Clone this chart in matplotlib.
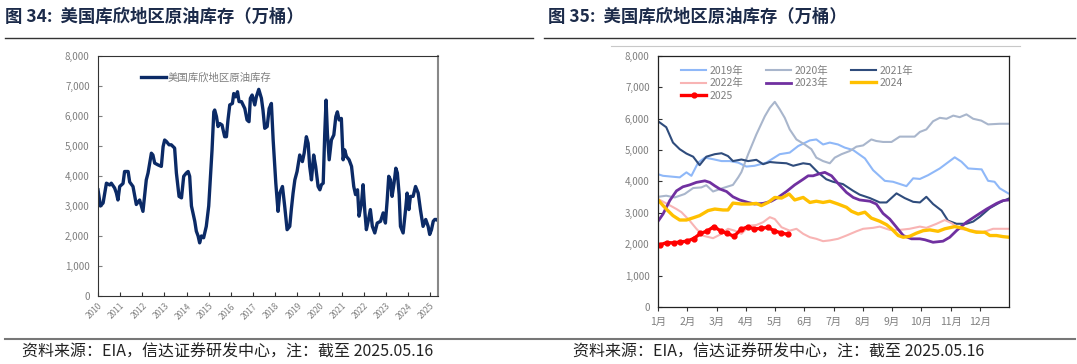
import matplotlib.pyplot as plt
import numpy as np

plt.rcParams['font.family'] = ['Noto Sans CJK SC', 'DejaVu Sans']

# ---- left chart: Cushing crude stocks (10k bbl), x in decimal years ----
cush_year = [2010.00, 2010.11, 2010.23, 2010.38, 2010.53, 2010.60, 2010.75, 2010.83, 2010.90, 2010.98,
             2011.13, 2011.20, 2011.36, 2011.43, 2011.58, 2011.73, 2011.88, 2012.03, 2012.18, 2012.26,
             2012.41, 2012.48, 2012.56, 2012.71, 2012.86, 2012.94, 2013.01, 2013.09, 2013.21, 2013.31,
             2013.46, 2013.54, 2013.66, 2013.77, 2013.87, 2013.99, 2014.07, 2014.14, 2014.22, 2014.37,
             2014.44, 2014.52, 2014.59, 2014.67, 2014.77, 2014.89, 2015.00, 2015.09, 2015.15, 2015.23,
             2015.27, 2015.35, 2015.42, 2015.50, 2015.60, 2015.72, 2015.80, 2015.87, 2015.95, 2016.07,
             2016.13, 2016.22, 2016.30, 2016.37, 2016.48, 2016.55, 2016.63, 2016.73, 2016.82, 2016.88,
             2016.96, 2017.08, 2017.15, 2017.26, 2017.38, 2017.45, 2017.53, 2017.64, 2017.73, 2017.83,
             2017.91, 2018.03, 2018.13, 2018.21, 2018.33, 2018.43, 2018.54, 2018.66, 2018.73, 2018.81,
             2018.89, 2018.99, 2019.11, 2019.23, 2019.31, 2019.41, 2019.49, 2019.56, 2019.64, 2019.74,
             2019.83, 2019.94, 2020.02, 2020.09, 2020.17, 2020.24, 2020.30, 2020.36, 2020.44, 2020.54,
             2020.65, 2020.74, 2020.81, 2020.89, 2020.99, 2021.07, 2021.14, 2021.22, 2021.34, 2021.45,
             2021.55, 2021.63, 2021.72, 2021.79, 2021.90, 2021.97, 2022.05, 2022.12, 2022.20, 2022.30,
             2022.39, 2022.50, 2022.61, 2022.76, 2022.88, 2022.98, 2023.06, 2023.13, 2023.21, 2023.28,
             2023.37, 2023.45, 2023.52, 2023.60, 2023.66, 2023.78, 2023.89, 2023.96, 2024.04, 2024.11,
             2024.23, 2024.34, 2024.46, 2024.56, 2024.68, 2024.80, 2024.91, 2024.98, 2025.06, 2025.14,
             2025.21, 2025.29, 2025.37]
cush_val = [3540, 3000, 3100, 3760, 3700, 3760, 3600, 3430, 3200, 3650,
            3750, 4150, 4150, 3800, 3650, 3050, 3200, 2820, 3870, 4100,
            4760, 4700, 4430, 4370, 4320, 4980, 5200, 5150, 5040, 5040,
            4930, 4100, 3320, 3270, 3990, 4100, 4150, 3990, 3000, 2490,
            2160, 2000, 1770, 2000, 1940, 2320, 3000, 4100, 4870, 6140,
            6200, 5980, 5650, 5750, 5700, 5310, 5310, 5870, 6370, 6420,
            6750, 6640, 6810, 6480, 6480, 6370, 6250, 5870, 5810, 6590,
            6700, 6370, 6640, 6890, 6590, 6200, 5590, 5650, 6250, 6420,
            5200, 3760, 2820, 3430, 3650, 3000, 2210, 2320, 2880, 3430,
            3870, 4150, 4700, 4480, 4760, 5310, 5090, 4320, 3870, 4700,
            4320, 3650, 3540, 3710, 3760, 5420, 6530, 5420, 4540, 5200,
            5370, 5980, 6140, 5870, 5920, 4540, 4870, 4650, 4540, 4320,
            3650, 3380, 3540, 2660, 3100, 3710, 2820, 2210, 2490, 2880,
            2320, 2100, 2430, 2490, 2770, 2430, 3200, 3990, 3870, 3320,
            3760, 4260, 4100, 3380, 2320, 2100, 2880, 3430, 2880, 3320,
            3320, 3650, 3430, 2880, 2320, 2550, 2320, 2050, 2210, 2490,
            2550, 2550, 2500]
cush_years = list(range(2010, 2026))

# ---- right chart: seasonal view, x in months since Jan 1 ----
m19 = [0.00, 0.17, 0.74, 0.97, 1.14, 1.37, 1.60, 1.88, 2.17, 2.45, 2.74, 3.02, 3.30, 3.70, 4.16, 4.50,
       4.79, 5.19, 5.41, 5.64, 5.87, 6.15, 6.38, 6.67, 7.07, 7.35, 7.75, 8.03, 8.49, 8.72, 8.95, 9.23,
       9.63, 10.14, 10.37, 10.60, 11.06, 11.28, 11.50, 11.68, 11.97]
v19 = [4230, 4180, 4130, 4290, 4180, 4600, 4760, 4710, 4650, 4650, 4600, 4475, 4500, 4600, 4870, 4920,
       5130, 5310, 5340, 5180, 5240, 5180, 5080, 5000, 4735, 4360, 4020, 3990, 3850, 4100, 4080, 4200,
       4415, 4770, 4630, 4415, 4385, 4020, 3990, 3780, 3620]
m20 = [0.00, 0.28, 0.57, 0.91, 1.20, 1.48, 1.65, 1.88, 2.22, 2.56, 2.74, 2.85, 3.08, 3.36, 3.65, 3.82,
       3.99, 4.16, 4.33, 4.50, 4.73, 5.01, 5.24, 5.41, 5.64, 5.87, 6.04, 6.27, 6.55, 6.78, 7.01, 7.29,
       7.46, 7.69, 7.98, 8.26, 8.60, 8.77, 8.95, 9.17, 9.40, 9.63, 9.86, 10.09, 10.31, 10.54, 10.77,
       11.05, 11.28, 11.68, 12.00]
v20 = [3510, 3545, 3490, 3600, 3790, 3810, 3880, 3680, 3790, 3890, 4130, 4300, 4870, 5500, 6080, 6350,
       6540, 6300, 6030, 5660, 5340, 5180, 5030, 4760, 4650, 4580, 4760, 4870, 4970, 5110, 5150, 5340,
       5290, 5260, 5260, 5430, 5430, 5430, 5580, 5660, 5920, 6030, 6000, 6100, 6050, 6140, 6000,
       5940, 5820, 5840, 5840]
m21 = [0.00, 0.28, 0.51, 0.74, 0.97, 1.20, 1.42, 1.65, 1.94, 2.17, 2.39, 2.56, 2.85, 3.08, 3.36, 3.59,
       3.82, 4.05, 4.39, 4.62, 4.96, 5.19, 5.47, 5.75, 5.98, 6.32, 6.67, 6.89, 7.24, 7.58, 7.81, 8.15,
       8.43, 8.72, 8.95, 9.17, 9.40, 9.69, 9.91, 10.20, 10.54, 10.77, 11.00, 11.34, 11.68, 12.00]
v21 = [5920, 5730, 5240, 5030, 4890, 4790, 4520, 4790, 4870, 4900, 4810, 4650, 4700, 4650, 4690, 4550,
       4620, 4600, 4580, 4500, 4580, 4550, 4285, 4070, 3990, 3915, 3700, 3580, 3470, 3330, 3330, 3620,
       3470, 3350, 3330, 3510, 3280, 3070, 2750, 2650, 2650, 2720, 2875, 3150, 3330, 3460]
m22 = [0.00, 0.28, 0.63, 0.80, 1.08, 1.31, 1.54, 1.88, 2.11, 2.39, 2.62, 2.85, 3.13, 3.36, 3.59, 3.82,
       3.99, 4.22, 4.50, 4.73, 4.96, 5.19, 5.41, 5.64, 5.87, 6.15, 6.44, 6.78, 7.01, 7.35, 7.58, 7.92,
       8.26, 8.60, 8.95, 9.17, 9.52, 9.80, 10.03, 10.31, 10.77, 11.11, 11.45, 12.00]
v22 = [3440, 3300, 3120, 3020, 2750, 2490, 2270, 2190, 2300, 2490, 2430, 2330, 2590, 2610, 2700, 2860,
       2800, 2540, 2430, 2490, 2330, 2220, 2170, 2095, 2120, 2170, 2275, 2410, 2490, 2520, 2560, 2455,
       2455, 2490, 2560, 2520, 2650, 2770, 2670, 2490, 2430, 2380, 2490, 2490]
m23 = [0.00, 0.17, 0.40, 0.63, 0.85, 1.08, 1.31, 1.60, 1.77, 1.94, 2.11, 2.34, 2.56, 2.79, 3.08, 3.30,
       3.59, 3.87, 4.10, 4.39, 4.67, 4.96, 5.13, 5.30, 5.53, 5.70, 5.93, 6.15, 6.44, 6.67, 6.89, 7.24,
       7.46, 7.69, 7.92, 8.15, 8.38, 8.66, 8.95, 9.12, 9.40, 9.74, 9.97, 10.20, 10.54, 10.88, 11.23,
       11.57, 11.79, 12.00]
v23 = [2730, 2960, 3390, 3700, 3830, 3890, 3970, 4020, 3970, 3860, 3760, 3680, 3510, 3410, 3330, 3280,
       3300, 3370, 3490, 3680, 3890, 4070, 4180, 4180, 4250, 4290, 4180, 3940, 3650, 3490, 3410, 3370,
       3280, 2980, 2800, 2540, 2275, 2170, 2170, 2140, 2060, 2095, 2220, 2430, 2700, 2910, 3120,
       3300, 3390, 3410]
m24 = [0.00, 0.28, 0.51, 0.74, 0.97, 1.20, 1.42, 1.71, 1.94, 2.22, 2.39, 2.56, 2.85, 3.13, 3.36, 3.53,
       3.76, 3.99, 4.22, 4.48, 4.67, 4.96, 5.19, 5.41, 5.64, 5.87, 6.15, 6.44, 6.61, 6.84, 7.07, 7.29,
       7.58, 7.81, 7.98, 8.21, 8.38, 8.60, 8.83, 9.06, 9.29, 9.57, 9.80, 10.14, 10.43, 10.66, 10.88,
       11.17, 11.34, 11.57, 11.79, 12.00]
v24 = [3410, 3120, 2910, 2770, 2770, 2840, 2910, 3070, 3120, 3090, 3090, 3310, 3280, 3280, 3300, 3230,
       3330, 3490, 3470, 3600, 3410, 3490, 3330, 3370, 3330, 3370, 3280, 3175, 3050, 2960, 3020, 2830,
       2730, 2620, 2490, 2275, 2220, 2250, 2350, 2430, 2455, 2410, 2490, 2560, 2510, 2430, 2380,
       2380, 2275, 2275, 2240, 2220]
m25 = [0.07, 0.30, 0.53, 0.76, 0.99, 1.22, 1.45, 1.68, 1.91, 2.14, 2.37, 2.60, 2.83, 3.06, 3.29, 3.52,
       3.75, 3.98, 4.21, 4.44]
v25 = [1980, 2050, 2040, 2070, 2095, 2180, 2340, 2420, 2560, 2420, 2340, 2250, 2470, 2550, 2490, 2500,
       2540, 2420, 2360, 2310]
month_labels = ['1月', '2月', '3月', '4月', '5月', '6月', '7月', '8月', '9月', '10月', '11月', '12月']

title_c = '#1c2b4a'
tick_c = '#7f7f7f'

fig = plt.figure(figsize=(10.77, 3.64), dpi=100)

# titles, rules, footers
fig.text(0.005, 0.955, '图 34:  美国库欣地区原油库存（万桶）', fontsize=12.5, fontweight='bold',
         color=title_c, va='center')
fig.text(0.509, 0.955, '图 35:  美国库欣地区原油库存（万桶）', fontsize=12.5, fontweight='bold',
         color=title_c, va='center')
fig.add_artist(plt.Line2D([0.005, 0.495], [0.895, 0.895], color='#333333', lw=1.0))
fig.add_artist(plt.Line2D([0.505, 0.998], [0.895, 0.895], color='#333333', lw=1.0))
fig.add_artist(plt.Line2D([0.567, 0.947], [0.873, 0.873], color='#c8c8c8', lw=0.8))
fig.add_artist(plt.Line2D([0.005, 0.998], [0.07, 0.07], color='#777777', lw=1.5))
fig.text(0.02, 0.033, '资料来源：EIA，信达证券研发中心，注：截至 2025.05.16', fontsize=11.5,
         color='#222222', va='center')
fig.text(0.532, 0.033, '资料来源：EIA，信达证券研发中心，注：截至 2025.05.16', fontsize=11.5,
         color='#222222', va='center')

# left chart
ax1 = fig.add_axes([0.091, 0.187, 0.316, 0.659])
ax1.plot(cush_year, cush_val, color='#0b2a66', lw=2.4, label='美国库欣地区原油库存')
ax1.set_xlim(2010, 2025.37)
ax1.set_ylim(0, 8000)
ax1.set_yticks(range(0, 8001, 1000))
ax1.set_yticklabels([f'{v:,}' for v in range(0, 8001, 1000)])
ax1.set_xticks(cush_years)
ax1.set_xticklabels([str(y) for y in cush_years], rotation=45, ha='right', rotation_mode='anchor')
ax1.tick_params(axis='y', direction='in', length=3, labelsize=7, colors=tick_c, labelcolor=tick_c, pad=6)
ax1.tick_params(axis='x', direction='in', length=3, labelsize=6, colors='#333333', labelcolor=tick_c, pad=4)
for s in ax1.spines.values():
    s.set_color('#333333')
    s.set_linewidth(0.8)
ax1.spines['right'].set_color('#888888')
ax1.spines['right'].set_linewidth(1.5)
leg1 = ax1.legend(loc='upper left', bbox_to_anchor=(0.1, 0.97), frameon=False, fontsize=7.5,
                  handlelength=2.4, handletextpad=0.15)
for t in leg1.get_texts():
    t.set_color(tick_c)

# right chart
ax2 = fig.add_axes([0.611, 0.157, 0.326, 0.689])
ax2.plot(m19, v19, color='#8fb8f8', lw=1.5, label='2019年')
ax2.plot(m20, v20, color='#a9b6cc', lw=1.5, label='2020年')
ax2.plot(m21, v21, color='#2f4c7c', lw=1.5, label='2021年')
ax2.plot(m22, v22, color='#f8b4b4', lw=1.5, label='2022年')
ax2.plot(m23, v23, color='#7030a0', lw=2.0, label='2023年')
ax2.plot(m24, v24, color='#ffc000', lw=2.4, label='2024')
ax2.plot(m25, v25, color='#ff0000', lw=2.4, marker='o', ms=3.5, label='2025')
ax2.set_xlim(0, 12)
ax2.set_ylim(0, 8000)
ax2.set_yticks(range(0, 8001, 1000))
ax2.set_yticklabels([f'{v:,}' for v in range(0, 8001, 1000)])
ax2.set_xticks(range(12))
ax2.set_xticklabels(month_labels)
ax2.tick_params(axis='y', direction='in', length=3, labelsize=7, colors='#333333', labelcolor=tick_c, pad=6)
ax2.tick_params(axis='x', direction='out', length=3, labelsize=7.5, colors='#333333', labelcolor=tick_c, pad=4)
for s in ax2.spines.values():
    s.set_color('#222222')
    s.set_linewidth(0.9)

h, l = ax2.get_legend_handles_labels()
order = [0, 3, 6, 1, 4, 2, 5]
leg2 = ax2.legend([h[i] for i in order], [l[i] for i in order], ncol=3, loc='upper left',
                  bbox_to_anchor=(0.04, 1.0), frameon=False, fontsize=7.5, handlelength=2.4,
                  handletextpad=0.3, columnspacing=2.2, labelspacing=0.25)
for t in leg2.get_texts():
    t.set_color(tick_c)

fig.savefig('out.png', dpi=100)
